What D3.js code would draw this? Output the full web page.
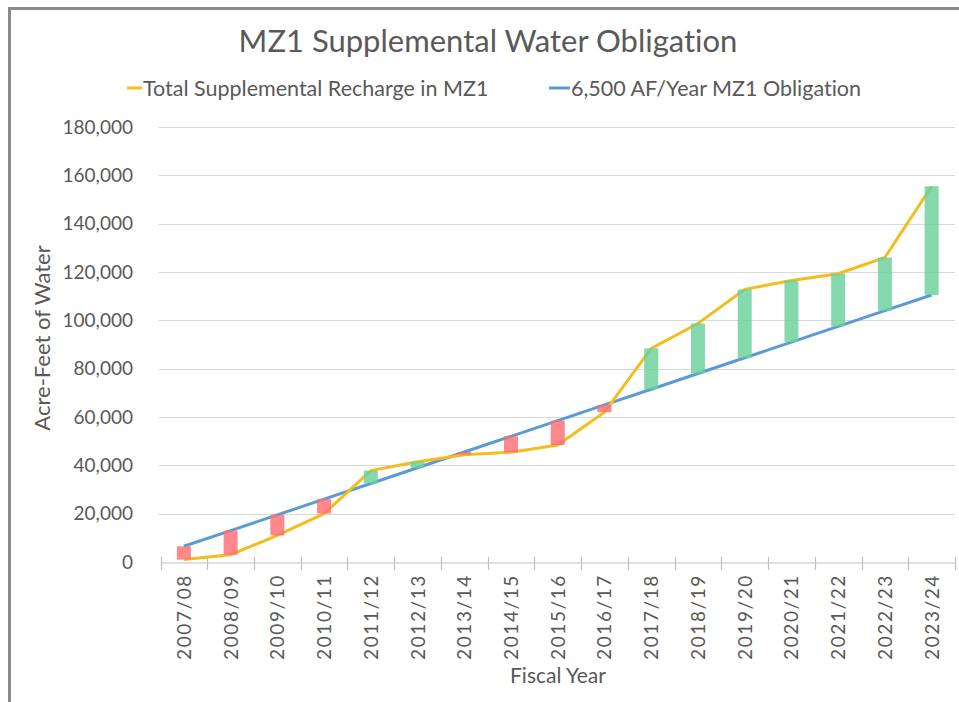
<!DOCTYPE html>
<html>
<head>
<meta charset="utf-8">
<script src="https://cdn.jsdelivr.net/npm/d3@7"></script>
<style>
  html, body { margin: 0; padding: 0; background: #fff; }
  svg { display: block; }
  text { font-family: Lato, "Open Sans", sans-serif; fill: #595959; font-variant-ligatures: none; }
</style>
</head>
<body>
<svg id="chart" width="959" height="702"></svg>
<script>
const years = ["2007/08","2008/09","2009/10","2010/11","2011/12","2012/13","2013/14","2014/15","2015/16","2016/17","2017/18","2018/19","2019/20","2020/21","2021/22","2022/23","2023/24"];
const recharge = [1000, 3000, 11000, 20000, 37800, 41500, 44400, 45400, 48400, 62000, 88400, 98700, 112800, 116500, 119300, 126000, 155500];
const obligation = [6500, 13000, 19500, 26000, 32500, 39000, 45500, 52000, 58500, 65000, 71500, 78000, 84500, 91000, 97500, 104000, 110500];
const yTicks = [0, 20000, 40000, 60000, 80000, 100000, 120000, 140000, 160000, 180000];
const seriesNames = ["Total Supplemental Recharge in MZ1", "6,500 AF/Year MZ1 Obligation"];

const svg = d3.select("#chart");
const plotL = 160.5, plotR = 955, plotT = 127, plotB = 562;

// frame
svg.append("rect").attr("x", 9.5).attr("y", 8.5).attr("width", 980).attr("height", 720)
  .attr("fill", "none").attr("stroke", "#8a8a8a").attr("stroke-width", 3);

const x = d3.scaleBand().domain(years).range([plotL, plotR]).padding(0);
const y = d3.scaleLinear().domain([0, 180000]).range([plotB, plotT]);

// gridlines
svg.append("g").selectAll("line").data(yTicks.filter(d => d > 0)).join("line")
  .attr("x1", plotL - 2).attr("x2", plotR)
  .attr("y1", d => Math.round(y(d)) + 0.5).attr("y2", d => Math.round(y(d)) + 0.5)
  .attr("stroke", "#d9d9d9").attr("stroke-width", 1);

// y tick labels
svg.append("g").selectAll("text").data(yTicks).join("text")
  .attr("x", 133).attr("y", d => y(d)).attr("dy", "0.35em")
  .attr("text-anchor", "end").attr("font-size", 19)
  .text(d => d3.format(",")(d));

// x axis
const xAxis = d3.axisBottom(x).tickSize(0).tickFormat("");
const gx = svg.append("g").attr("transform", `translate(0,${plotB + 0.5})`).call(xAxis);
gx.select(".domain").attr("stroke", "#bfbfbf").attr("stroke-width", 1.2);
const bounds = years.map(d => x(d)).concat([plotR]);
svg.append("g").selectAll("line").data(bounds).join("line")
  .attr("x1", d => Math.round(d) + 0.5).attr("x2", d => Math.round(d) + 0.5)
  .attr("y1", plotB - 5).attr("y2", plotB + 8)
  .attr("stroke", "#bfbfbf").attr("stroke-width", 1.2);

// x tick labels
svg.append("g").selectAll("text").data(years).join("text")
  .attr("transform", d => `translate(${x(d) + x.bandwidth() / 2 + 7},${plotB + 12}) rotate(-90)`)
  .attr("text-anchor", "end").attr("font-size", 19).attr("letter-spacing", 1.6)
  .text(d => d);

// lines
const cx = d => x(d) + x.bandwidth() / 2;
const lineGen = d3.line().x(d => cx(d[0])).y(d => y(d[1]));
svg.append("path").datum(years.map((d, i) => [d, obligation[i]]))
  .attr("d", lineGen).attr("fill", "none").attr("stroke", "#5b9bd5").attr("stroke-width", 3);
svg.append("path").datum(years.map((d, i) => [d, recharge[i]]))
  .attr("d", lineGen).attr("fill", "none").attr("stroke", "#f2bd1d").attr("stroke-width", 3);

// difference bars
const bw = 14;
svg.append("g").selectAll("rect").data(years).join("rect")
  .attr("x", d => cx(d) - bw / 2).attr("width", bw)
  .attr("y", (d, i) => y(Math.max(recharge[i], obligation[i])))
  .attr("height", (d, i) => Math.abs(y(recharge[i]) - y(obligation[i])))
  .attr("fill", (d, i) => recharge[i] >= obligation[i] ? "#6ad19a" : "#ff6e74")
  .attr("fill-opacity", 0.82);

// title
svg.append("text").attr("x", 488).attr("y", 52).attr("text-anchor", "middle")
  .attr("font-size", 31).text("MZ1 Supplemental Water Obligation");

// legend
const leg = [
  {name: seriesNames[0], color: "#f2bd1d", x1: 127, x2: 142, tx: 143},
  {name: seriesNames[1], color: "#5b9bd5", x1: 549, x2: 570, tx: 571}
];
leg.forEach(l => {
  svg.append("line").attr("x1", l.x1).attr("x2", l.x2).attr("y1", 88).attr("y2", 88)
    .attr("stroke", l.color).attr("stroke-width", 3);
  svg.append("text").attr("x", l.tx).attr("y", 88).attr("dy", "0.35em")
    .attr("font-size", 21.5).text(l.name);
});

// axis titles
svg.append("text").attr("transform", "translate(42,338) rotate(-90)").attr("text-anchor", "middle")
  .attr("dy", "0.35em").attr("font-size", 22).text("Acre-Feet of Water");
svg.append("text").attr("x", 558).attr("y", 676).attr("dy", "0.35em").attr("text-anchor", "middle")
  .attr("font-size", 21).text("Fiscal Year");
</script>
</body>
</html>
